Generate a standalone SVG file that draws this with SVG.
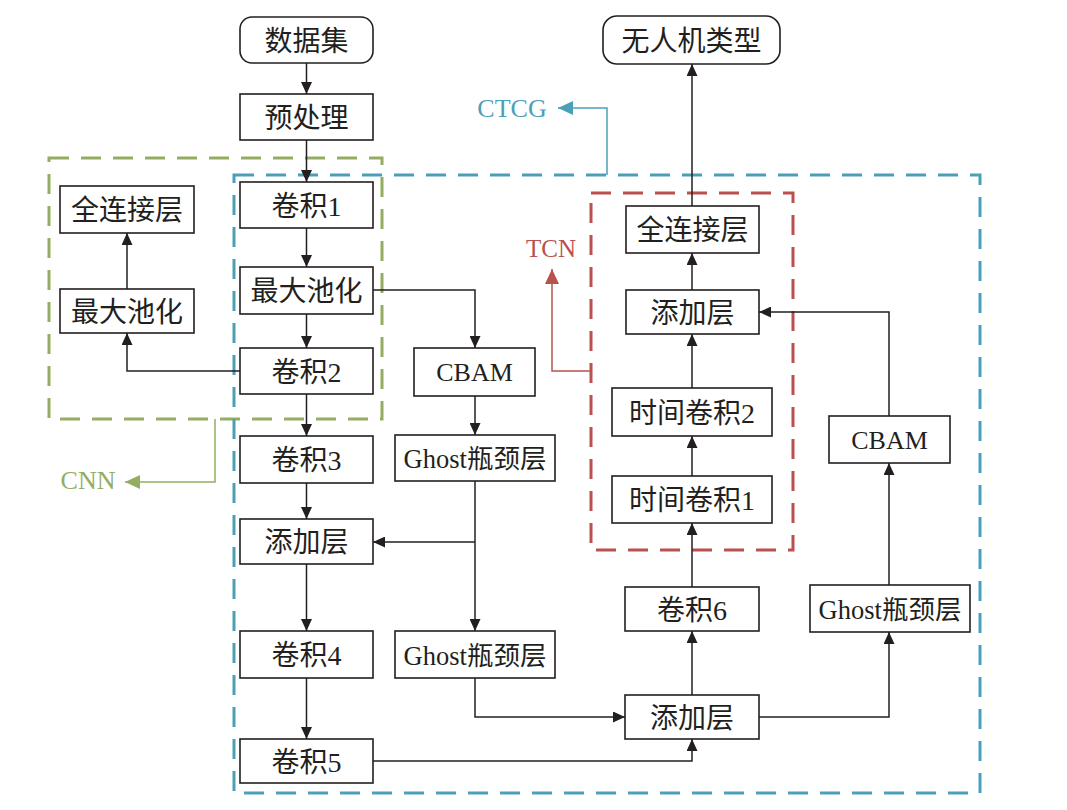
<svg xmlns="http://www.w3.org/2000/svg" width="1067" height="810" viewBox="0 0 1067 810">
<style>
  .box { fill: #ffffff; stroke: #231f20; stroke-width: 1.6; }
  .t { font-family: "Liberation Serif", "Noto Sans CJK SC", serif; font-size: 28px; fill: #231f20; text-anchor: middle; dominant-baseline: central; }
  .tg { font-family: "Liberation Serif", "Noto Sans CJK SC", serif; font-size: 26.5px; fill: #231f20; text-anchor: middle; dominant-baseline: central; }
  .tl { font-family: "Liberation Serif", "Noto Sans CJK SC", serif; font-size: 26px; fill: #231f20; text-anchor: middle; dominant-baseline: central; }
  .c { fill: none; stroke: #231f20; stroke-width: 1.5; marker-end: url(#ah); }
  .dash { fill: none; stroke-width: 3; stroke-dasharray: 20 12; }
</style>
<defs>
  <marker id="ah" markerUnits="userSpaceOnUse" markerWidth="13" markerHeight="11" refX="12" refY="5.5" orient="auto">
    <path d="M0,0 L12,5.5 L0,11 z" fill="#231f20"/>
  </marker>
  <marker id="ahb" markerUnits="userSpaceOnUse" markerWidth="16" markerHeight="14" refX="15" refY="7" orient="auto">
    <path d="M0,0 L15,7 L0,14 z" fill="#4aa0b8"/>
  </marker>
  <marker id="ahg" markerUnits="userSpaceOnUse" markerWidth="16" markerHeight="14" refX="15" refY="7" orient="auto">
    <path d="M0,0 L15,7 L0,14 z" fill="#93ad63"/>
  </marker>
  <marker id="ahr" markerUnits="userSpaceOnUse" markerWidth="16" markerHeight="14" refX="15" refY="7" orient="auto">
    <path d="M0,0 L15,7 L0,14 z" fill="#b9514f"/>
  </marker>
</defs>

<g id="regions">
  <rect id="region-cnn" class="dash" x="49" y="158" width="333" height="261" stroke="#93ad63"/>
  <rect id="region-ctcg" class="dash" x="234" y="175" width="746" height="618" stroke="#4aa0b8"/>
  <rect id="region-tcn" class="dash" x="591" y="193" width="202" height="357" stroke="#b9514f"/>
</g>

<g id="connectors">
  <line class="c" x1="306.5" y1="63" x2="306.5" y2="94"/>
  <line class="c" x1="306.5" y1="140" x2="306.5" y2="182"/>
  <line class="c" x1="306.5" y1="228" x2="306.5" y2="267"/>
  <line class="c" x1="306.5" y1="314" x2="306.5" y2="348"/>
  <line class="c" x1="306.5" y1="394" x2="306.5" y2="436"/>
  <line class="c" x1="306.5" y1="483" x2="306.5" y2="519"/>
  <line class="c" x1="306.5" y1="564" x2="306.5" y2="631"/>
  <line class="c" x1="306.5" y1="678" x2="306.5" y2="739"/>
  <polyline class="c" points="240,371 127,371 127,333"/>
  <line class="c" x1="127" y1="289" x2="127" y2="233"/>
  <polyline class="c" points="373,290 475,290 475,348"/>
  <line class="c" x1="475" y1="396" x2="475" y2="435"/>
  <line class="c" x1="475" y1="481" x2="475" y2="631"/>
  <line class="c" x1="475" y1="542" x2="373" y2="542"/>
  <polyline class="c" points="475,678 475,717 625,717"/>
  <polyline class="c" points="373,761 692,761 692,739"/>
  <line class="c" x1="692" y1="695" x2="692" y2="631"/>
  <line class="c" x1="692" y1="587" x2="692" y2="523"/>
  <line class="c" x1="692" y1="476" x2="692" y2="436"/>
  <line class="c" x1="692" y1="388" x2="692" y2="334"/>
  <line class="c" x1="692" y1="290" x2="692" y2="253"/>
  <line class="c" x1="692" y1="206" x2="692" y2="64"/>
  <polyline class="c" points="759,717 889,717 889,632"/>
  <line class="c" x1="889" y1="585" x2="889" y2="463"/>
  <polyline class="c" points="889,416 889,312 759,312"/>
  <polyline fill="none" stroke="#4aa0b8" stroke-width="1.5" marker-end="url(#ahb)" points="607,175 607,108 558,108"/>
  <polyline fill="none" stroke="#93ad63" stroke-width="1.5" marker-end="url(#ahg)" points="215,419 215,482 125,482"/>
  <polyline fill="none" stroke="#b9514f" stroke-width="1.5" marker-end="url(#ahr)" points="591,371 552,371 552,269"/>
</g>

<g id="labels">
  <text x="512" y="108" font-family="Liberation Serif, serif" font-size="26" fill="#4aa0b8" text-anchor="middle" dominant-baseline="central">CTCG</text>
  <text x="88" y="480" font-family="Liberation Serif, serif" font-size="26" fill="#93ad63" text-anchor="middle" dominant-baseline="central">CNN</text>
  <text x="551" y="248" font-family="Liberation Serif, serif" font-size="25" fill="#b9514f" text-anchor="middle" dominant-baseline="central">TCN</text>
</g>

<g id="n-dataset"><rect class="box" x="240" y="17" width="133" height="46" rx="12"/><text class="t" x="306.5" y="41">数据集</text></g>
<g id="n-preprocess"><rect class="box" x="240" y="94" width="133" height="46"/><text class="t" x="306.5" y="118">预处理</text></g>
<g id="n-conv1"><rect class="box" x="240" y="182" width="133" height="46"/><text class="t" x="306.5" y="206">卷积1</text></g>
<g id="n-maxpool"><rect class="box" x="240" y="267" width="133" height="47"/><text class="t" x="306.5" y="291.5">最大池化</text></g>
<g id="n-conv2"><rect class="box" x="240" y="348" width="133" height="46"/><text class="t" x="306.5" y="372">卷积2</text></g>
<g id="n-conv3"><rect class="box" x="240" y="436" width="133" height="47"/><text class="t" x="306.5" y="460.5">卷积3</text></g>
<g id="n-add1"><rect class="box" x="240" y="519" width="133" height="45"/><text class="t" x="306.5" y="542.5">添加层</text></g>
<g id="n-conv4"><rect class="box" x="240" y="631" width="133" height="47"/><text class="t" x="306.5" y="655.5">卷积4</text></g>
<g id="n-conv5"><rect class="box" x="240" y="739" width="133" height="44"/><text class="t" x="306.5" y="762">卷积5</text></g>

<g id="n-cnn-fc"><rect class="box" x="60" y="186" width="134" height="47"/><text class="t" x="127" y="210.5">全连接层</text></g>
<g id="n-cnn-pool"><rect class="box" x="60" y="289" width="134" height="44"/><text class="t" x="127" y="312">最大池化</text></g>

<g id="n-cbam1"><rect class="box" x="414" y="348" width="121" height="48"/><text class="tl" x="474.5" y="372.5">CBAM</text></g>
<g id="n-ghost1"><rect class="box" x="395" y="435" width="160" height="46"/><text class="tg" x="475" y="459">Ghost瓶颈层</text></g>
<g id="n-ghost2"><rect class="box" x="395" y="631" width="160" height="47"/><text class="tg" x="475" y="655.5">Ghost瓶颈层</text></g>

<g id="n-output"><rect class="box" x="603" y="16" width="177" height="48" rx="14"/><text class="t" x="691.5" y="41">无人机类型</text></g>
<g id="n-tcn-fc"><rect class="box" x="626" y="206" width="133" height="47"/><text class="t" x="692.5" y="230.5">全连接层</text></g>
<g id="n-add3"><rect class="box" x="626" y="290" width="133" height="44"/><text class="t" x="692.5" y="313">添加层</text></g>
<g id="n-tconv2"><rect class="box" x="612" y="388" width="160" height="48"/><text class="t" x="692" y="413">时间卷积2</text></g>
<g id="n-tconv1"><rect class="box" x="612" y="476" width="160" height="47"/><text class="t" x="692" y="500.5">时间卷积1</text></g>
<g id="n-conv6"><rect class="box" x="625" y="587" width="134" height="44"/><text class="t" x="692" y="610">卷积6</text></g>
<g id="n-add2"><rect class="box" x="625" y="695" width="134" height="44"/><text class="t" x="692" y="718">添加层</text></g>
<g id="n-ghost3"><rect class="box" x="810" y="585" width="160" height="47"/><text class="tg" x="890" y="609.5">Ghost瓶颈层</text></g>
<g id="n-cbam2"><rect class="box" x="829" y="416" width="121" height="47"/><text class="tl" x="889.5" y="440">CBAM</text></g>
</svg>
